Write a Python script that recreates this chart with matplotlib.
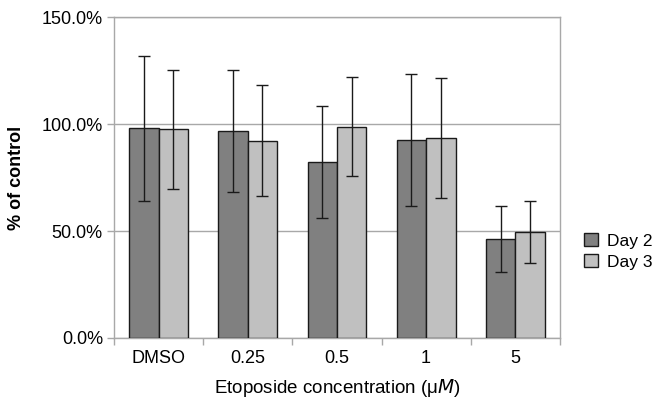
import matplotlib.pyplot as plt
import numpy as np
from matplotlib.ticker import FuncFormatter

plt.rcParams['font.family'] = ['Liberation Sans', 'DejaVu Sans']

categories = ["DMSO", "0.25", "0.5", "1", "5"]
day2 = [98.0, 96.7, 82.3, 92.5, 46.3]
day2_err = [34.0, 28.5, 26.0, 31.0, 15.5]
day3 = [97.5, 92.2, 98.8, 93.5, 49.6]
day3_err = [28.0, 26.0, 23.0, 28.0, 14.5]

fig = plt.figure(figsize=(6.61, 3.99), dpi=100)
ax = fig.add_axes([0.1725, 0.153, 0.6745, 0.804])

x = np.arange(len(categories))
w = 0.33
grey = '#a8a8a8'

ax.bar(x - w / 2, day2, w, color='#808080', edgecolor='#1a1a1a', linewidth=1.0,
       label='Day 2', zorder=3)
ax.bar(x + w / 2, day3, w, color='#c0c0c0', edgecolor='#1a1a1a', linewidth=1.0,
       label='Day 3', zorder=3)
ax.errorbar(x - w / 2, day2, yerr=day2_err, fmt='none', ecolor='#1a1a1a',
            elinewidth=1.0, capsize=4, capthick=1.0, zorder=4)
ax.errorbar(x + w / 2, day3, yerr=day3_err, fmt='none', ecolor='#1a1a1a',
            elinewidth=1.0, capsize=4, capthick=1.0, zorder=4)

ax.set_xlim(-0.5, len(categories) - 0.5)
ax.set_ylim(0, 150)
ax.set_yticks([0, 50, 100, 150])
ax.yaxis.set_major_formatter(FuncFormatter(lambda v, p: f"{v:.1f}%"))
ax.yaxis.grid(True, color=grey, linewidth=1.0, zorder=0)

ax.set_xticks(x)
ax.set_xticklabels(categories)
ax.set_xticks(np.arange(-0.5, len(categories)), minor=True)
ax.tick_params(axis='x', which='major', length=0, pad=9, labelsize=13)
ax.tick_params(axis='x', which='minor', length=5, color=grey, width=1.0)
ax.tick_params(axis='y', length=5, color=grey, width=1.0, labelsize=13, pad=3)

for s in ax.spines.values():
    s.set_color(grey)
    s.set_linewidth(1.0)

ax.set_ylabel("% of control", fontsize=13, fontweight='bold', labelpad=12)
ax.set_xlabel(r"Etoposide concentration (μ$\it{M}$)", fontsize=13.5, labelpad=7)

ax.legend(loc='center left', bbox_to_anchor=(1.02, 0.27), frameon=False,
          fontsize=12.5, handlelength=0.8, handleheight=0.8, handletextpad=0.5,
          labelspacing=0.3)

fig.savefig("out.png", dpi=100)
